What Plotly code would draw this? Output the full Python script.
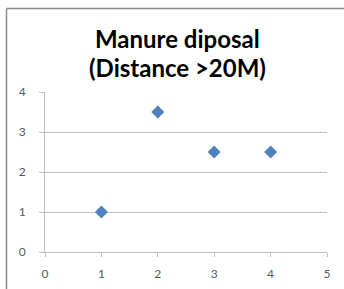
import plotly.graph_objects as go

x_vals = [1, 2, 3, 4]
y_vals = [1, 3.5, 2.5, 2.5]
x_ticks = [0, 1, 2, 3, 4, 5]
y_ticks = [0, 1, 2, 3, 4]
title_lines = ["Manure diposal", "(Distance >20M)"]

W, H = 344, 289
L, R, T, B = 45, 17, 92, 37
pw, ph = W - L - R, H - T - B

def px_to_paper_x(p):
    return (p - L) / pw

def px_to_paper_y(p):
    return (H - B - p) / ph

fig = go.Figure()
fig.add_trace(go.Scatter(
    x=x_vals, y=y_vals, mode="markers",
    marker=dict(symbol="diamond", size=10, color="#4F81BD"),
    showlegend=False,
))

title_y_px = [38, 67]
annotations = [
    dict(text="<b>" + line + "</b>", xref="paper", yref="paper",
         x=px_to_paper_x(177.5), y=px_to_paper_y(yp),
         xanchor="center", yanchor="middle", showarrow=False,
         font=dict(family="Lato", size=24, color="black"))
    for line, yp in zip(title_lines, title_y_px)
]

fig.update_layout(
    width=W, height=H,
    margin=dict(l=L, r=R, t=T, b=B),
    paper_bgcolor="white", plot_bgcolor="white",
    annotations=annotations,
    font=dict(family="Lato", size=12, color="#595959"),
    xaxis=dict(
        range=[0, 5], tickvals=x_ticks, showgrid=False,
        showline=True, linecolor="#BFBFBF", linewidth=1,
        ticks="outside", ticklen=4, tickcolor="#BFBFBF",
        ticklabelstandoff=7, automargin=False,
        zeroline=False, fixedrange=True,
    ),
    yaxis=dict(
        range=[0, 4], tickvals=y_ticks, showgrid=True,
        gridcolor="#BFBFBF", gridwidth=1,
        showline=True, linecolor="#BFBFBF", linewidth=1,
        ticks="outside", ticklen=5, tickcolor="#BFBFBF",
        ticklabelstandoff=11, automargin=False,
        zeroline=False, fixedrange=True,
    ),
    shapes=[
        dict(type="line", xref="paper", yref="paper",
             x0=px_to_paper_x(6.5), x1=px_to_paper_x(344),
             y0=px_to_paper_y(8.5), y1=px_to_paper_y(8.5),
             line=dict(color="#8C8C8C", width=1.5)),
        dict(type="line", xref="paper", yref="paper",
             x0=px_to_paper_x(6.5), x1=px_to_paper_x(6.5),
             y0=px_to_paper_y(8.5), y1=px_to_paper_y(289),
             line=dict(color="#8C8C8C", width=1.5)),
    ],
)

fig.write_html("out.html", config={"displayModeBar": False},
               post_script="document.body.style.margin='0';document.body.style.overflow='hidden';")
